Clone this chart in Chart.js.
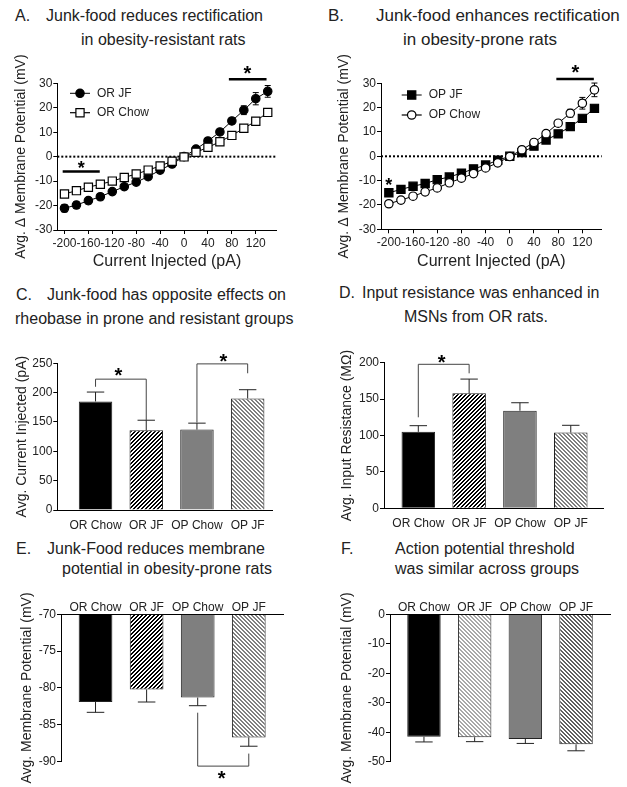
<!DOCTYPE html>
<html>
<head>
<meta charset="utf-8">
<script src="https://cdn.jsdelivr.net/npm/chart.js@4/dist/chart.umd.min.js"></script>
<style>
body { margin: 0; background: #fff; width: 627px; height: 787px; position: relative; overflow: hidden;
       font-family: "Liberation Sans", Arial, sans-serif; color: #222; }
.box { position: absolute; }
.t { position: absolute; font-size: 16px; line-height: 18px; white-space: nowrap; }
.big { font-size: 17px; }
</style>
</head>
<body>
<div class="t" style="left:15px;top:7px">A.</div>
<div class="t" style="left:46px;top:7px">Junk-food reduces rectification</div>
<div class="t" style="left:81px;top:31px">in obesity-resistant rats</div>
<div class="t big" style="left:328px;top:7px">B.</div>
<div class="t big" style="left:376px;top:7px">Junk-food enhances rectification</div>
<div class="t big" style="left:403px;top:31px">in obesity-prone rats</div>

<div class="t" style="left:16px;top:286px">C.</div>
<div class="t" style="left:47px;top:286px">Junk-food has opposite effects on</div>
<div class="t" style="left:15px;top:310px">rheobase in prone and resistant groups</div>
<div class="t" style="left:339px;top:284px">D.</div>
<div class="t" style="left:362px;top:284px">Input resistance was enhanced in</div>
<div class="t" style="left:404px;top:308px">MSNs from OR rats.</div>

<div class="t" style="left:16px;top:540px">E.</div>
<div class="t" style="left:47px;top:540px">Junk-Food reduces membrane</div>
<div class="t" style="left:62px;top:560px">potential in obesity-prone rats</div>
<div class="t" style="left:341px;top:540px">F.</div>
<div class="t" style="left:395px;top:540px">Action potential threshold</div>
<div class="t" style="left:395px;top:560px">was similar across groups</div>

<div class="box" style="left:0;top:55px;width:300px;height:220px"><canvas id="chartA"></canvas></div>
<div class="box" style="left:310px;top:55px;width:310px;height:220px"><canvas id="chartB"></canvas></div>
<div class="box" style="left:0;top:345px;width:300px;height:195px"><canvas id="chartC"></canvas></div>
<div class="box" style="left:310px;top:345px;width:310px;height:195px"><canvas id="chartD"></canvas></div>
<div class="box" style="left:0;top:580px;width:300px;height:207px"><canvas id="chartE"></canvas></div>
<div class="box" style="left:310px;top:580px;width:310px;height:207px"><canvas id="chartF"></canvas></div>

<script>
// current steps (pA) and the I-V curves (mV)
const currents = [-200, -180, -160, -140, -120, -100, -80, -60, -40, -20, 0, 20, 40, 60, 80, 100, 120, 140];
const xTicks = [-200, -160, -120, -80, -40, 0, 40, 80, 120];

const orJF = [-21.1, -19.8, -18.0, -16.4, -14.3, -12.3, -10.4, -8.2, -5.5, -3.0, 0.0, 3.1, 6.4, 10.1, 14.6, 19.0, 23.7, 26.7];
const orJFsem = [1.5, 1.4, 1.3, 1.2, 1.0, 0.8, 0.8, 0.7, 0.6, 0.5, 0.3, 0.5, 0.8, 0.9, 1.2, 1.8, 2.5, 2.4];
const orChow = [-15.3, -13.9, -12.5, -11.3, -10.0, -8.5, -7.1, -5.5, -3.8, -1.9, -0.1, 1.8, 3.8, 6.1, 8.7, 11.6, 14.5, 18.1];
const orChowSem = [0.6, 0.6, 0.6, 0.5, 0.5, 0.5, 0.5, 0.5, 0.4, 0.4, 0.3, 0.4, 0.5, 0.6, 0.7, 0.8, 1.0, 1.3];

const opJF = [-15.0, -13.6, -12.3, -11.2, -9.6, -8.5, -6.9, -5.2, -3.6, -1.6, 0.0, 1.5, 4.2, 6.7, 9.2, 12.2, 15.6, 19.7];
const opJFsem = [0.8, 0.7, 0.6, 0.6, 0.6, 0.5, 0.5, 0.5, 0.4, 0.4, 0.3, 0.4, 0.5, 0.6, 0.7, 0.8, 1.0, 1.3];
const opChow = [-19.5, -18.0, -16.4, -14.6, -13.0, -10.9, -9.0, -7.1, -4.8, -2.7, -0.1, 2.7, 5.7, 9.3, 13.6, 17.7, 21.8, 27.3];
const opChowSem = [0.9, 0.8, 0.8, 0.7, 0.7, 0.6, 0.6, 0.5, 0.5, 0.4, 0.3, 0.5, 0.7, 0.9, 1.1, 1.6, 2.4, 2.8];

// group means +- sem
const groups = ['OR Chow', 'OR JF', 'OP Chow', 'OP JF'];
const rheobase = [185, 136, 137, 190];
const rheobaseSem = [16, 17, 11, 15];
const inputRes = [105, 158, 134, 104];
const inputResSem = [8.5, 19.5, 11, 10];
const restingVm = [-81.9, -80.2, -81.3, -86.7];
const restingVmSem = [1.4, 1.7, 1.1, 1.2];
const thresholdVm = [-41.5, -41.7, -42.3, -44.1];
const thresholdVmSem = [1.8, 1.5, 1.5, 2.2];

const FONT = '"Liberation Sans", Arial, sans-serif';
Chart.defaults.font.family = FONT;
Chart.defaults.color = '#222';
Chart.defaults.animation = false;
Chart.defaults.events = [];
Chart.defaults.plugins.legend.display = false;
Chart.defaults.plugins.tooltip.enabled = false;

const hatch = (fg, bg, dir) => {
    const p = 4;
    const c = document.createElement('canvas');
    c.width = p; c.height = p;
    const g = c.getContext('2d');
    g.fillStyle = bg;
    g.fillRect(0, 0, p, p);
    g.fillStyle = fg;
    for (let x = 0; x < p; x++) {
        for (let y = 0; y < p; y++) {
            const k = dir > 0 ? (x + y) % p : (x - y + p) % p;
            if (k < 2) g.fillRect(x, y, 1, 1);
        }
    }
    return g.createPattern(c, 'repeat');
}

const fillsMain = ['#000', hatch('#000', '#fff', 1), '#7f7f7f', hatch('#808080', '#fff', -1)];
const fillsF = ['#000', hatch('#a8a8a8', '#fff', -1), '#7f7f7f', hatch('#606060', '#fff', -1)];

const star = (ctx, x, y, size) => {
    ctx.save();
    ctx.fillStyle = '#000';
    ctx.font = 'bold ' + size + 'px ' + FONT;
    ctx.textAlign = 'center';
    ctx.textBaseline = 'alphabetic';
    ctx.fillText('*', x, y + size * 0.58);
    ctx.restore();
}

const marker = (ctx, shape, x, y, fill) => {
    ctx.beginPath();
    if (shape === 'rect') {
        ctx.rect(x - 4.1, y - 4.1, 8.2, 8.2);
    } else {
        ctx.arc(x, y, 4.2, 0, Math.PI * 2);
    }
    ctx.fillStyle = fill;
    ctx.fill();
    ctx.lineWidth = 1.2;
    ctx.strokeStyle = '#000';
    ctx.stroke();
}

const yAxis = (min, max, step, text, width) => ({
    min: min, max: max, beginAtZero: false,
    ticks: {stepSize: step, font: {size: 12}, padding: 1},
    grid: {drawOnChartArea: false, tickLength: 4, tickColor: '#000'},
    border: {color: '#000', width: 1},
    title: {display: true, text: text, font: {size: 14}, padding: {top: 4, bottom: 0}},
    afterFit: (s) => { s.width = width; }
});

// ---------- I-V curves ----------
const series = (label, ys, fill, shape) => ({
    label: label,
    data: currents.map((x, i) => ({x: x, y: ys[i]})),
    showLine: true,
    borderColor: '#000',
    borderWidth: 1,
    pointStyle: shape,
    pointRadius: shape === 'rect' ? 5.8 : 4.2,
    pointBackgroundColor: fill,
    pointBorderColor: '#000',
    pointBorderWidth: 1.2
});

const curveChart = (id, o) => {
    return new Chart(document.getElementById(id), {
        type: 'scatter',
        data: {datasets: o.series.map(s => series(s.label, s.values, s.fill, s.shape))},
        options: {
            responsive: true,
            maintainAspectRatio: false,
            layout: {padding: o.pad},
            scales: {
                x: {
                    type: 'linear', min: o.xMin, max: o.xMax,
                    afterBuildTicks: (s) => { s.ticks = xTicks.map(v => ({value: v})); },
                    ticks: {autoSkip: false, maxRotation: 0, minRotation: 0, font: {size: 12}, padding: 2},
                    grid: {drawOnChartArea: false, tickLength: 4, tickColor: '#000'},
                    border: {color: '#000', width: 1},
                    title: {display: true, text: 'Current Injected (pA)', font: {size: 16}, padding: {top: 2, bottom: 4}},
                    afterFit: (s) => { s.height = o.xHeight; }
                },
                y: yAxis(-30, 30, 10, 'Avg. \u0394 Membrane Potential (mV)', o.yWidth)
            }
        },
        plugins: [{
            id: 'ivDeco',
            beforeDatasetsDraw(chart) {
                const {ctx, chartArea: a, scales: {x, y}} = chart;
                ctx.save();
                // dotted zero line
                ctx.strokeStyle = '#000';
                ctx.lineWidth = 2;
                ctx.setLineDash([2, 2]);
                ctx.beginPath();
                ctx.moveTo(a.left, y.getPixelForValue(0));
                ctx.lineTo(a.right, y.getPixelForValue(0));
                ctx.stroke();
                ctx.setLineDash([]);
                // error bars
                ctx.lineWidth = 1;
                o.series.forEach(s => {
                    s.values.forEach((v, i) => {
                        const px = x.getPixelForValue(currents[i]);
                        const lo = y.getPixelForValue(v - s.sem[i]);
                        const hi = y.getPixelForValue(v + s.sem[i]);
                        ctx.beginPath();
                        ctx.moveTo(px, lo); ctx.lineTo(px, hi);
                        ctx.moveTo(px - 3, lo); ctx.lineTo(px + 3, lo);
                        ctx.moveTo(px - 3, hi); ctx.lineTo(px + 3, hi);
                        ctx.stroke();
                    });
                });
                ctx.restore();
            },
            afterDraw(chart) {
                const {ctx, chartArea: a, scales: {x, y}} = chart;
                ctx.save();
                ctx.strokeStyle = '#000';
                ctx.lineWidth = 2.5;
                o.sigBars.forEach(b => {
                    ctx.beginPath();
                    ctx.moveTo(x.getPixelForValue(b.from), y.getPixelForValue(b.y));
                    ctx.lineTo(x.getPixelForValue(b.to), y.getPixelForValue(b.y));
                    ctx.stroke();
                });
                o.stars.forEach(s => star(ctx, x.getPixelForValue(s.x), y.getPixelForValue(s.y), s.size));
                // legend, top-left inside the plot
                ctx.lineWidth = 1;
                o.series.slice().reverse().forEach((s, i) => {
                    const lx = a.left + o.legend.dx;
                    const ly = a.top + o.legend.dy + i * o.legend.gap;
                    ctx.strokeStyle = '#000';
                    ctx.beginPath();
                    ctx.moveTo(lx - 10, ly); ctx.lineTo(lx + 10, ly);
                    ctx.stroke();
                    marker(ctx, s.shape, lx, ly, s.fill);
                    ctx.fillStyle = '#222';
                    ctx.font = '12px ' + FONT;
                    ctx.textAlign = 'left';
                    ctx.textBaseline = 'middle';
                    ctx.fillText(s.label, lx + 17, ly);
                });
                ctx.restore();
            }
        }]
    });
}

curveChart('chartA', {
    series: [
        {label: 'OR Chow', values: orChow, sem: orChowSem, fill: '#fff', shape: 'rect'},
        {label: 'OR JF', values: orJF, sem: orJFsem, fill: '#000', shape: 'circle'}
    ],
    xMin: -212, xMax: 155,
    pad: {left: 9, top: 28.3, right: 23.3, bottom: 0},
    yWidth: 48.3, xHeight: 45,
    sigBars: [{from: 75, to: 138, y: 31.7}, {from: -203, to: -141, y: -6.1}],
    stars: [{x: 106, y: 36.1, size: 20}, {x: -172, y: -2.9, size: 18}],
    legend: {dx: 22.7, dy: 10, gap: 19.4}
});

curveChart('chartB', {
    series: [
        {label: 'OP Chow', values: opChow, sem: opChowSem, fill: '#fff', shape: 'circle'},
        {label: 'OP JF', values: opJF, sem: opJFsem, fill: '#000', shape: 'rect'}
    ],
    xMin: -213, xMax: 152,
    pad: {left: 21.6, top: 28.3, right: 18.3, bottom: 0},
    yWidth: 49.4, xHeight: 45.7,
    sigBars: [{from: 77, to: 139, y: 31.8}],
    stars: [{x: 108.6, y: 36.6, size: 20}, {x: -200, y: -9.8, size: 18}],
    legend: {dx: 30.7, dy: 11.7, gap: 20}
});

// ---------- group bar charts ----------
const barChart = (id, o) => {
    const dataset = {
        data: o.values.map((v, i) => ({x: i, y: v})),
        backgroundColor: o.fills,
        borderColor: '#222',
        borderWidth: 1,
        barPercentage: 0.66,
        categoryPercentage: 1
    };
    if (o.base !== undefined) dataset.base = o.base;
    const base = o.base !== undefined ? o.base : 0;
    return new Chart(document.getElementById(id), {
        type: 'bar',
        data: {datasets: [dataset]},
        options: {
            responsive: true,
            maintainAspectRatio: false,
            layout: {padding: o.pad},
            scales: {
                x: {
                    type: 'linear', position: o.top ? 'top' : 'bottom', min: o.xMin, max: o.xMax, offset: false,
                    afterBuildTicks: (s) => { s.ticks = groups.map((g, i) => ({value: i})); },
                    ticks: {callback: (v) => groups[v], autoSkip: false, maxRotation: 0, minRotation: 0,
                            font: {size: 12}, padding: o.top ? -9 : 0},
                    grid: {display: false},
                    border: {color: '#000', width: 1},
                    afterFit: (s) => { s.height = o.xHeight; }
                },
                y: yAxis(o.yMin, o.yMax, o.step, o.yTitle, o.yWidth)
            }
        },
        plugins: [{
            id: 'barDeco',
            afterDatasetsDraw(chart) {
                const {ctx, scales: {x, y}} = chart;
                const meta = chart.getDatasetMeta(0);
                ctx.save();
                ctx.strokeStyle = '#222';
                ctx.lineWidth = 1;
                meta.data.forEach((bar, i) => {
                    const v = o.values[i];
                    const dir = v >= base ? 1 : -1;
                    const y1 = y.getPixelForValue(v);
                    const y2 = y.getPixelForValue(v + dir * o.sem[i]);
                    const half = bar.width * 0.26;
                    ctx.beginPath();
                    ctx.moveTo(bar.x, y1); ctx.lineTo(bar.x, y2);
                    ctx.moveTo(bar.x - half, y2); ctx.lineTo(bar.x + half, y2);
                    ctx.stroke();
                });
                ctx.strokeStyle = '#444';
                o.brackets.forEach(b => {
                    const x1 = x.getPixelForValue(b.from);
                    const x2 = x.getPixelForValue(b.to);
                    ctx.beginPath();
                    ctx.moveTo(x1, y.getPixelForValue(b.yFrom));
                    ctx.lineTo(x1, y.getPixelForValue(b.yTop));
                    ctx.lineTo(x2, y.getPixelForValue(b.yTop));
                    ctx.lineTo(x2, y.getPixelForValue(b.yTo));
                    ctx.stroke();
                    star(ctx, x.getPixelForValue(b.starX), y.getPixelForValue(b.starY), 20);
                });
                ctx.restore();
            }
        }]
    });
}

barChart('chartC', {
    values: rheobase, sem: rheobaseSem, fills: fillsMain,
    yMin: 0, yMax: 250, step: 50, yTitle: 'Avg. Current Injected (pA)',
    xMin: -0.754, xMax: 3.48,
    pad: {left: 9.6, top: 18.3, right: 28, bottom: 0}, yWidth: 47.7, xHeight: 30,
    brackets: [
        {from: 0, to: 1, yFrom: 210, yTop: 223, yTo: 153, starX: 0.45, starY: 238},
        {from: 2, to: 3, yFrom: 149, yTop: 249, yTo: 233, starX: 2.52, starY: 261}
    ]
});

barChart('chartD', {
    values: inputRes, sem: inputResSem, fills: fillsMain,
    yMin: 0, yMax: 200, step: 50, yTitle: 'Avg. Input Resistance (M\u03A9)',
    xMin: -0.675, xMax: 3.64,
    pad: {left: 24.6, top: 17.7, right: 16.7, bottom: 0}, yWidth: 49.4, xHeight: 31.7,
    brackets: [
        {from: 0, to: 1, yFrom: 125, yTop: 197.8, yTo: 185.4, starX: 0.46, starY: 207.4}
    ]
});

barChart('chartE', {
    values: restingVm, sem: restingVmSem, fills: fillsMain, base: -70, top: true,
    yMin: -90, yMax: -70, step: 5, yTitle: 'Avg. Membrane Potential (mV)',
    xMin: -0.676, xMax: 3.67,
    pad: {left: 14.6, top: 4.3, right: 17, bottom: 25.3}, yWidth: 46.4, xHeight: 30,
    brackets: [
        {from: 2, to: 3, yFrom: -83.35, yTop: -90.6, yTo: -88.9, starX: 2.47, starY: -91.6}
    ]
});

barChart('chartF', {
    values: thresholdVm, sem: thresholdVmSem, fills: fillsF, top: true,
    yMin: -50, yMax: 0, step: 10, yTitle: 'Avg. Membrane Potential (mV)',
    xMin: -0.67, xMax: 3.67,
    pad: {left: 25.1, top: 4.3, right: 10, bottom: 25.3}, yWidth: 54.9, xHeight: 30,
    brackets: []
});
</script>
</body>
</html>
